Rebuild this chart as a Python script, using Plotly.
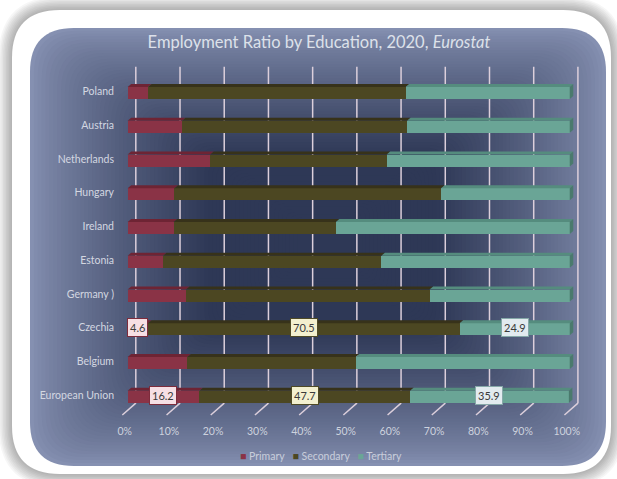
import plotly.graph_objects as go

# values (percent of employed, by education level)
countries = ["Poland", "Austria", "Netherlands", "Hungary", "Ireland",
             "Estonia", "Germany )", "Czechia", "Belgium", "European Union"]
primary = [4.6, 12.3, 18.7, 10.6, 10.4, 8.0, 13.2, 4.6, 13.5, 16.2]
secondary = [58.3, 50.9, 39.9, 60.3, 36.7, 49.4, 55.1, 70.5, 38.1, 47.7]
tertiary = [37.1, 36.8, 41.4, 29.1, 52.9, 42.6, 31.7, 24.9, 48.4, 35.9]
labelled = ["Czechia", "European Union"]
x_ticks = list(range(0, 101, 10))

series = [
    # name, values, front, top face, label fill, label border
    ("Primary", primary, "#8a3346", "#6e2434", "#f6dfe4", "#7d2c3c"),
    ("Secondary", secondary, "#4c4722", "#37321a", "#f3f0cf", "#4f4a26"),
    ("Tertiary", tertiary, "#6aa596", "#558c7e", "#e2ebef", "#86a8a8"),
]

W, H = 617, 479
ML, MR, MT, MB = 121, 34, 66, 63
PW, PH = W - ML - MR, H - MT - MB
FONT = "Lato"


def px_x(px):
    return (px - ML) / PW


def px_y(py):
    return (H - MB - py) / PH


def rrect(x0, y0, x1, y1, r):
    """rounded rectangle path in paper coords, corners given in pixels"""
    pts = [
        ("M", x0 + r, y0), ("L", x1 - r, y0), ("Q", x1, y0), ("", x1, y0 + r),
        ("L", x1, y1 - r), ("Q", x1, y1), ("", x1 - r, y1),
        ("L", x0 + r, y1), ("Q", x0, y1), ("", x0, y1 - r),
        ("L", x0, y0 + r), ("Q", x0, y0), ("", x0 + r, y0),
    ]
    return " ".join(f"{c}{px_x(a):.5f},{px_y(b):.5f}" for c, a, b in pts) + " Z"


def mix(c1, c2, t):
    a = [int(c1[i:i + 2], 16) for i in (1, 3, 5)]
    b = [int(c2[i:i + 2], 16) for i in (1, 3, 5)]
    return "#" + "".join(f"{round(p + (q - p) * t):02x}" for p, q in zip(a, b))


fig = go.Figure()
for name, vals, col, _, _, _ in series:
    fig.add_trace(go.Bar(
        name=name, y=countries, x=vals, orientation="h",
        width=0.355, offset=-0.127,
        marker=dict(color=col, line=dict(width=0)),
        showlegend=False,
    ))

shapes = []
# soft shadow + white card
for k in range(9, 0, -1):
    d = k * 1.5
    shapes.append(dict(type="path", xref="paper", yref="paper", layer="below",
                       path=rrect(12 - d, 10 - d, 611 + d, 474 + d, 48 + d),
                       fillcolor="rgba(0,0,0,0.035)", line_width=0))
shapes.append(dict(type="path", xref="paper", yref="paper", layer="below",
                   path=rrect(12, 10, 611, 474, 48),
                   fillcolor="#ffffff", line_width=0))
# radial-ish blue gradient panel
bx0, by0, bx1, by1 = 30, 28, 606, 466
cx, cy = 325, 240
n = 70
for j in range(n):
    s = j / n * 0.92
    t = min(1.0, s / 0.6) ** 0.8
    shapes.append(dict(
        type="path", xref="paper", yref="paper", layer="below",
        path=rrect(bx0 + s * (cx - bx0), by0 + s * (cy - by0),
                   bx1 - s * (bx1 - cx), by1 - s * (by1 - cy), 40 * (1 - s) + 4),
        fillcolor=mix("#8590b1", "#2e3856", t), line_width=0))

# gridlines on the back wall, with floor stubs
GRID_OFF, FRONT_OFF = 1.85, -1.2
for v in x_ticks:
    shapes.append(dict(type="line", xref="x", yref="y", layer="below",
                       x0=v + GRID_OFF, x1=v + GRID_OFF, y0=-0.73, y1=9.24,
                       line=dict(color="#dccfdb", width=1.5)))
    shapes.append(dict(type="line", xref="x", yref="y", layer="below",
                       x0=v + GRID_OFF, x1=v + FRONT_OFF, y0=9.24, y1=9.59,
                       line=dict(color="#dccfdb", width=1.5)))

# 3d bar tops and end caps
DX, Y_FRONT, Y_TOP, Y_BOT = 0.8, -0.127, -0.216, 0.228
for i, c in enumerate(countries):
    start = 0.0
    for name, vals, col, top, _, _ in series:
        end = start + vals[i]
        shapes.append(dict(
            type="path", xref="x", yref="y", layer="above", line_width=0,
            fillcolor=top,
            path=(f"M{start},{i + Y_FRONT} L{start + DX},{i + Y_TOP} "
                  f"L{end + DX},{i + Y_TOP} L{end},{i + Y_FRONT} Z")))
        start = end
    shapes.append(dict(
        type="path", xref="x", yref="y", layer="above", line_width=0,
        fillcolor="#4a7a6d",
        path=(f"M{start},{i + Y_FRONT} L{start + DX},{i + Y_TOP} "
              f"L{start + DX},{i + Y_BOT - 0.09} L{start},{i + Y_BOT} Z")))

annotations = []
for c in labelled:
    i = countries.index(c)
    start = 0.0
    for name, vals, col, top, fill, border in series:
        v = vals[i]
        annotations.append(dict(
            x=start + v / 2, y=c, xref="x", yref="y", text=f"{v:.1f}",
            showarrow=False, bgcolor=fill, bordercolor=border, borderwidth=1,
            borderpad=2, font=dict(family=FONT, size=11, color="#3a3a3a")))
        start += v

legend_txt = "   ".join(
    f"<span style='color:{col}'>■</span> {name}" for name, _, col, _, _, _ in series)
annotations.append(dict(
    x=px_x(321), y=px_y(456), xref="paper", yref="paper", text=legend_txt,
    xanchor="center", yanchor="middle", showarrow=False,
    font=dict(family=FONT, size=10.5, color="#c9cedb")))

fig.update_layout(
    width=W, height=H,
    margin=dict(l=ML, r=MR, t=MT, b=MB, pad=0),
    paper_bgcolor="#ffffff", plot_bgcolor="rgba(0,0,0,0)",
    barmode="stack", bargap=0,
    title=dict(
        text="Employment Ratio by Education, 2020, <i>Eurostat</i>",
        x=319 / W, y=1 - 42 / H, xanchor="center", yanchor="middle",
        xref="container", yref="container",
        font=dict(family=FONT, size=16.5, color="#dde1ea")),
    font=dict(family=FONT),
    shapes=shapes, annotations=annotations,
)
fig.update_xaxes(
    range=[-1.5, 103], tickvals=x_ticks, ticktext=[f"{v}%" for v in x_ticks],
    showgrid=False, zeroline=False, showline=False, ticks="",
    ticklabelstandoff=7, ticklabelshift=-3,
    tickfont=dict(family=FONT, size=10.5, color="#cdd2de"),
)
fig.update_yaxes(
    type="category", range=[9.62, -0.75], showgrid=False, zeroline=False,
    showline=False, ticks="", ticklabelstandoff=6,
    tickfont=dict(family=FONT, size=10.5, color="#d3d7e1"),
)

# the page body has an 8px default margin; drop it so the chart sits at 0,0
fig.write_html("out.html", config={"displayModeBar": False},
               post_script="document.body.style.margin = '0';")
